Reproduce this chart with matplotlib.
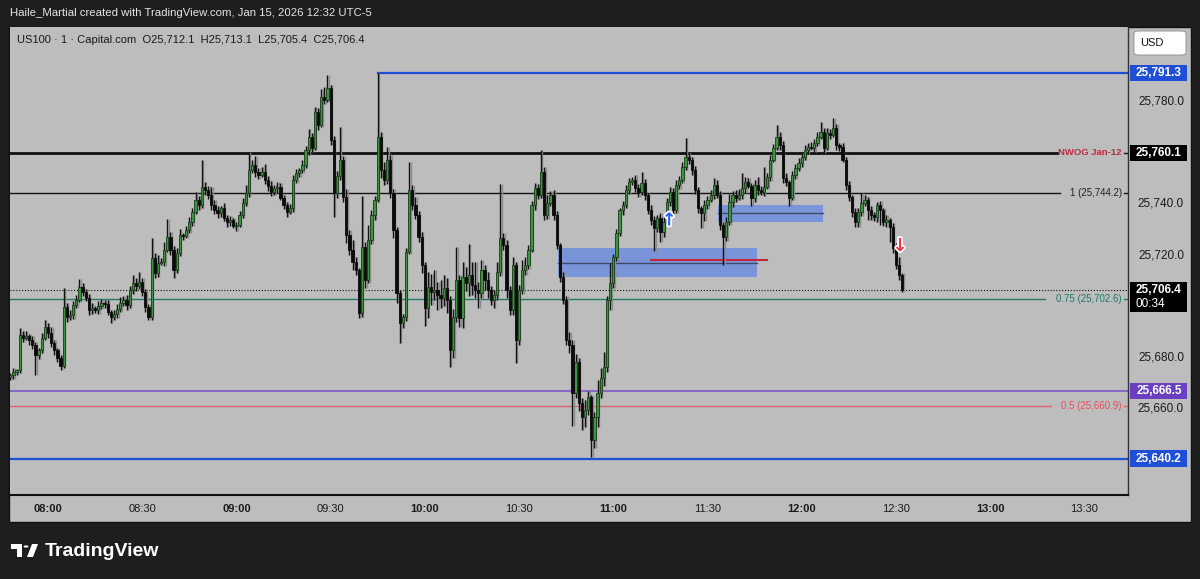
import numpy as np
import matplotlib.pyplot as plt
import matplotlib.transforms as mtrans
import matplotlib.patheffects as pe
from matplotlib.patches import Rectangle, FancyBboxPatch, Circle, Polygon

plt.rcParams['font.family'] = ['Liberation Sans', 'DejaVu Sans']

# ---- data: US100 1-minute candles, 07:48 -> 12:32 ----
first_open = 25672.0
closes = [
    25672.9, 25674.1, 25674.9, 25688.6, 25687.5, 25688.2, 25686.7, 25684.7, 25680.8, 25682.7, 25687.5, 25691.8, 25689.4, 25685.5, 25682.7,
    25679.6, 25676.5, 25699.6, 25695.7, 25696.5, 25700.4, 25702.4, 25707.5, 25705.5, 25703.1, 25698.4, 25699.2, 25698.4, 25700.0, 25701.2,
    25700.8, 25697.6, 25695.7, 25696.9, 25698.8, 25701.2, 25702.4, 25700.4, 25706.3, 25709.0, 25707.8, 25709.4, 25705.5, 25699.6, 25695.7,
    25718.8, 25712.9, 25716.9, 25717.3, 25722.0, 25727.1, 25722.0, 25714.1, 25720.8, 25727.8, 25727.5, 25729.8, 25732.9, 25736.9, 25741.6,
    25739.6, 25746.7, 25745.5, 25743.5, 25739.6, 25737.6, 25736.5, 25738.4, 25734.5, 25732.9, 25733.7, 25731.4, 25731.8, 25735.7, 25740.4,
    25744.3, 25753.3, 25755.3, 25752.5, 25751.4, 25752.5, 25749.4, 25747.1, 25744.7, 25746.3, 25746.7, 25742.4, 25739.6, 25736.9, 25738.4,
    25749.4, 25752.2, 25753.3, 25755.3, 25761.2, 25766.3, 25762.0, 25776.1, 25771.0, 25782.0, 25780.8, 25785.5, 25765.1, 25744.3, 25751.0,
    25757.3, 25742.7, 25727.8, 25722.0, 25717.3, 25714.1, 25697.3, 25723.1, 25710.2, 25725.9, 25735.7, 25741.6, 25766.3, 25753.3, 25749.4,
    25757.3, 25744.3, 25729.8, 25705.1, 25693.3, 25695.7, 25721.2, 25745.5, 25739.6, 25735.7, 25727.1, 25716.1, 25699.2, 25707.5, 25705.5,
    25706.3, 25704.3, 25703.1, 25707.1, 25702.4, 25682.7, 25695.7, 25710.2, 25695.3, 25711.4, 25709.0, 25712.2, 25708.2, 25706.3, 25705.1,
    25714.1, 25710.2, 25706.3, 25702.4, 25704.3, 25713.3, 25726.7, 25723.9, 25706.3, 25698.4, 25716.1, 25686.7, 25706.3, 25714.1, 25716.1,
    25722.0, 25739.6, 25746.3, 25743.5, 25752.5, 25735.7, 25740.4, 25743.5, 25735.7, 25723.9, 25711.4, 25702.4, 25686.7, 25684.7, 25665.9,
    25678.0, 25662.0, 25656.5, 25659.2, 25664.3, 25647.5, 25656.5, 25665.9, 25671.8, 25676.1, 25702.4, 25709.0, 25719.2, 25728.6, 25737.6,
    25739.6, 25745.5, 25748.6, 25749.4, 25746.3, 25744.7, 25748.2, 25743.5, 25737.6, 25733.7, 25730.6, 25734.5, 25729.0, 25732.9, 25740.8,
    25744.7, 25737.6, 25747.5, 25749.4, 25754.5, 25758.4, 25757.3, 25753.3, 25745.5, 25738.4, 25736.5, 25739.6, 25741.6, 25743.5, 25747.5,
    25743.5, 25731.8, 25727.1, 25732.9, 25740.8, 25743.5, 25742.4, 25743.5, 25746.3, 25748.6, 25747.1, 25742.4, 25747.5, 25745.5, 25744.7,
    25746.7, 25750.6, 25757.3, 25762.0, 25766.3, 25763.1, 25750.2, 25748.6, 25742.4, 25751.4, 25754.1, 25756.1, 25758.4, 25761.2, 25762.4,
    25762.0, 25763.9, 25766.3, 25768.2, 25762.0, 25767.8, 25767.1, 25769.8, 25763.1, 25762.4, 25757.3, 25747.5, 25742.7, 25736.9, 25732.9,
    25736.9, 25740.4, 25741.6, 25737.6, 25735.7, 25734.9, 25739.6, 25737.6, 25732.9, 25733.7, 25731.0, 25722.7, 25716.1, 25712.1, 25706.4,
]
# wick length above / below the body (points)
up_wick = [
    1.0, 1.5, 0.5, 2.7, 1.5, 2.0, 1.0, 1.5, 1.0, 1.0, 2.0, 2.7, 1.5, 2.5, 1.0,
    1.0, 1.0, 7.5, 1.5, 2.0, 1.5, 2.0, 3.0, 1.5, 1.0, 1.5, 2.0, 1.0, 2.0, 1.5,
    1.0, 1.5, 1.0, 1.5, 2.0, 2.5, 1.5, 2.0, 1.5, 3.0, 2.0, 4.0, 1.5, 1.0, 1.0,
    8.0, 2.0, 3.0, 1.5, 3.0, 7.0, 2.0, 1.5, 2.0, 2.5, 1.0, 1.5, 2.0, 1.5, 3.0,
    1.5, 10.5, 2.0, 1.5, 3.0, 2.0, 1.5, 1.0, 2.0, 1.0, 1.5, 1.0, 1.0, 1.5, 2.0,
    3.0, 7.0, 2.0, 3.5, 1.5, 2.0, 3.0, 1.5, 2.0, 1.0, 2.0, 1.5, 1.0, 1.0, 1.5,
    2.0, 1.5, 1.0, 2.0, 1.5, 3.0, 1.5, 2.0, 1.5, 3.0, 4.0, 5.0, 1.0, 1.5, 2.0,
    13.0, 1.5, 3.0, 2.0, 4.0, 2.0, 1.0, 20.0, 2.0, 6.0, 2.0, 1.5, 25.0, 2.0, 3.0,
    5.0, 2.0, 1.5, 1.0, 1.0, 1.0, 1.5, 11.0, 2.0, 3.0, 1.5, 2.0, 1.0, 6.0, 5.0,
    8.0, 3.0, 6.0, 5.0, 4.0, 1.5, 3.0, 13.0, 2.0, 6.0, 4.0, 12.0, 5.0, 9.0, 3.0,
    4.0, 2.0, 3.0, 1.5, 2.0, 4.0, 21.0, 2.0, 2.0, 1.5, 3.0, 1.0, 2.0, 4.0, 3.0,
    2.0, 1.5, 2.0, 1.5, 8.7, 2.0, 3.0, 1.5, 2.0, 1.5, 1.0, 2.0, 1.5, 3.0, 2.0,
    3.0, 1.5, 2.0, 4.0, 2.5, 1.0, 2.0, 5.0, 4.0, 6.0, 1.5, 8.0, 1.0, 1.5, 1.0,
    1.5, 2.0, 1.5, 1.0, 2.0, 1.5, 4.3, 1.5, 1.0, 2.0, 1.5, 1.0, 2.0, 2.5, 1.5,
    2.0, 1.5, 2.0, 1.5, 2.0, 7.5, 1.5, 1.0, 1.5, 1.0, 1.0, 2.0, 1.5, 2.0, 2.5,
    2.0, 1.5, 1.0, 2.0, 3.0, 1.5, 2.0, 2.5, 6.0, 2.0, 1.5, 1.0, 2.0, 3.0, 1.5,
    8.0, 1.5, 2.0, 1.5, 4.7, 2.0, 1.5, 2.0, 1.0, 1.5, 1.5, 2.0, 1.5, 2.0, 1.5,
    2.0, 1.5, 2.0, 4.0, 1.5, 2.0, 1.5, 4.0, 1.5, 1.0, 1.5, 1.0, 1.5, 1.0, 1.5,
    1.5, 4.0, 2.0, 1.0, 1.5, 1.0, 1.0, 1.5, 1.0, 2.0, 1.0, 1.5, 2.0, 3.0, 1.0,
]
dn_wick = [
    1.0, 1.5, 1.0, 1.0, 1.5, 1.0, 2.0, 1.5, 8.0, 1.5, 1.0, 1.0, 2.0, 1.5, 2.0,
    1.5, 1.5, 1.0, 2.0, 1.0, 1.5, 1.0, 1.0, 1.5, 1.0, 2.0, 1.5, 1.0, 1.5, 1.0,
    1.5, 1.0, 2.5, 1.0, 1.5, 1.0, 1.0, 2.0, 1.0, 1.5, 2.0, 1.0, 1.5, 2.0, 1.0,
    1.0, 2.0, 1.5, 1.0, 1.5, 1.0, 2.0, 3.0, 1.0, 1.0, 1.5, 1.0, 1.0, 1.5, 1.0,
    2.0, 1.0, 2.0, 1.5, 2.0, 1.5, 2.0, 1.5, 1.0, 2.0, 1.5, 1.0, 2.0, 1.0, 1.0,
    1.0, 1.5, 1.0, 2.0, 1.5, 1.0, 1.5, 2.0, 1.5, 1.0, 2.0, 1.0, 1.5, 2.0, 1.0,
    1.5, 1.0, 1.5, 1.0, 1.0, 2.0, 1.5, 1.0, 2.0, 1.0, 1.5, 1.0, 2.0, 9.4, 2.0,
    1.5, 2.0, 3.0, 2.0, 3.0, 2.0, 2.0, 1.5, 3.0, 1.0, 1.5, 2.0, 1.0, 3.0, 2.0,
    1.5, 2.0, 3.0, 4.0, 7.8, 2.0, 1.5, 1.0, 2.0, 1.5, 2.0, 3.0, 7.0, 4.0, 5.0,
    3.0, 6.0, 4.0, 3.0, 5.0, 6.7, 3.0, 2.0, 3.5, 4.0, 3.0, 5.0, 4.0, 3.0, 6.0,
    2.0, 4.0, 3.0, 2.0, 3.0, 2.0, 1.5, 2.0, 3.0, 2.0, 2.0, 9.0, 2.0, 1.5, 2.0,
    1.5, 1.0, 2.0, 1.5, 1.0, 2.0, 1.5, 1.0, 2.0, 1.5, 2.0, 1.5, 2.0, 3.0, 13.0,
    2.0, 3.0, 5.0, 4.0, 2.0, 6.7, 3.0, 4.0, 2.0, 3.0, 2.0, 4.0, 2.0, 1.5, 1.0,
    2.0, 1.0, 1.5, 1.0, 1.5, 2.0, 1.0, 2.0, 1.5, 2.0, 9.0, 1.5, 4.0, 2.0, 1.0,
    1.5, 2.0, 1.0, 1.5, 1.0, 1.0, 1.5, 2.0, 1.5, 2.0, 6.0, 3.0, 1.5, 1.0, 1.5,
    1.0, 2.0, 11.0, 1.5, 1.0, 2.0, 1.5, 1.0, 1.5, 2.0, 1.0, 3.0, 1.5, 2.0, 1.0,
    1.5, 1.0, 1.5, 1.0, 1.0, 2.0, 2.0, 1.5, 3.0, 1.0, 1.5, 1.0, 1.5, 1.0, 1.5,
    1.0, 1.5, 1.0, 1.0, 2.0, 1.0, 1.5, 1.0, 2.0, 1.5, 1.0, 2.0, 1.5, 2.0, 2.0,
    2.0, 1.5, 1.0, 4.0, 2.0, 1.5, 2.0, 6.0, 1.5, 2.0, 6.0, 2.0, 1.5, 2.0, 1.0,
]

time_ticks = [12, 42, 72, 102, 132, 162, 192, 222, 252, 282, 312, 342]   # bar index of each label
time_labels = ['08:00', '08:30', '09:00', '09:30', '10:00', '10:30', '11:00', '11:30', '12:00', '12:30', '13:00', '13:30']
price_ticks = [25660, 25680, 25720, 25740, 25780]

level_high = 25791.3
level_nwog = 25760.1
level_fib1 = 25744.2
level_fib075 = 25702.6
level_purple = 25666.5
level_fib05 = 25660.9
level_low = 25640.2
last_price = 25706.4

# zones: (start bar, end bar, bottom, top, mid)
zone1 = (174.4, 237.8, 25711.4, 25722.7, 25716.9)
zone2 = (225.4, 258.8, 25732.9, 25739.6, 25736.5)
red_line = (204.0, 241.0, 25718.0)

GREY = '#bdbdbd'
DARK = '#1e1e1e'
W, H = 1200, 579


def fx(x):
    return x / W


def fy(y):
    return 1 - y / H


fig = plt.figure(figsize=(12, 5.79), dpi=100)
fig.patch.set_facecolor(DARK)

# grey panel behind chart + scales
fig.patches.append(Rectangle((fx(9), fy(522)), fx(1191) - fx(9), fy(27) - fy(522),
                             transform=fig.transFigure, facecolor=GREY, edgecolor='#111111', lw=1, zorder=-5))

ax = fig.add_axes([fx(10), fy(495), fx(1128) - fx(10), fy(27) - fy(495)])
ax.set_zorder(1)
ax.set_facecolor(GREY)
ax.set_xlim(-0.1, 355.9)
ax.set_ylim(25625.9, 25809.4)
ax.set_xticks([])
ax.set_yticks([])
for s in ax.spines.values():
    s.set_visible(False)
ax.spines['bottom'].set_visible(True)
ax.spines['bottom'].set_color('#111111')
ax.spines['bottom'].set_linewidth(1.5)
ax.spines['right'].set_visible(True)
ax.spines['right'].set_color('#333333')
ax.spines['right'].set_linewidth(1)

c = np.array(closes)
o = np.array([first_open] + closes[:-1])
hi = np.maximum(o, c) + np.array(up_wick)
lo = np.minimum(o, c) - np.array(dn_wick)
idx = np.arange(len(c))
bull = c >= o

# zones
for z in (zone1, zone2):
    ax.add_patch(Rectangle((z[0], z[2]), z[1] - z[0], z[3] - z[2], facecolor='#2962ff', alpha=0.45, lw=0, zorder=1))
    ax.plot([z[0], z[1]], [z[4], z[4]], color='#3a4a66', lw=1, zorder=2)

# horizontal levels
xmax = 355.9
ax.plot([117.2, xmax], [level_high] * 2, color='#1e4fd6', lw=1.6, zorder=2)
ax.plot([-0.1, 333.4], [level_nwog] * 2, color='#111111', lw=2, zorder=2)
ax.plot([354.6, xmax], [level_nwog] * 2, color='#111111', lw=1, zorder=2)
ax.plot([-0.1, 334.3], [level_fib1] * 2, color='#111111', lw=1, zorder=2)
ax.plot([354.6, xmax], [level_fib1] * 2, color='#111111', lw=1, zorder=2)
ax.plot([-0.1, 329.5], [level_fib075] * 2, color='#1f7a68', lw=1, zorder=2)
ax.plot([354.6, xmax], [level_fib075] * 2, color='#1f7a68', lw=1, zorder=2)
ax.plot([-0.1, xmax], [level_purple] * 2, color='#7e57c2', lw=1.2, zorder=2)
ax.plot([-0.1, 331.4], [level_fib05] * 2, color='#e06470', lw=1, zorder=2)
ax.plot([354.6, xmax], [level_fib05] * 2, color='#e06470', lw=1, zorder=2)
ax.plot([-0.1, xmax], [level_low] * 2, color='#1e4fd6', lw=1.6, zorder=2)
ax.plot([-0.1, xmax], [last_price] * 2, color='#111111', lw=0.8, ls=(0, (1, 1.6)), zorder=2)
ax.plot([red_line[0], red_line[1]], [red_line[2]] * 2, color='#c62833', lw=1.5, zorder=2)

# line labels
ax.text(353.9, level_nwog, 'NWOG Jan-12', color='#c0283c', fontsize=6.8, fontweight='bold', ha='right', va='center', zorder=5)
ax.text(353.9, level_fib1, '1 (25,744.2)', color='#222222', fontsize=7, ha='right', va='center', zorder=5)
ax.text(353.9, level_fib075, '0.75 (25,702.6)', color='#1f7a68', fontsize=7, ha='right', va='center', zorder=5)
ax.text(353.9, level_fib05, '0.5 (25,660.9)', color='#f04a5a', fontsize=7, ha='right', va='center', zorder=5)

# candles (with the faint grey shadow TradingView draws beside each bar)
ax.vlines(idx + 0.45, lo, hi, color='#8c8c8c', lw=1.0, zorder=2.5)
ax.vlines(idx, lo, hi, color='#111111', lw=1.0, zorder=3)
ax.bar(idx[bull], np.maximum(c - o, 0.3)[bull], bottom=o[bull], width=0.72,
       color='#3d9440', edgecolor='#173d17', lw=0.6, zorder=4)
ax.bar(idx[~bull], (o - c)[~bull], bottom=c[~bull], width=0.72,
       color='#0b0b0b', edgecolor='#0b0b0b', lw=0.6, zorder=4)

# signal arrows
ax.text(209.8, 25733.5, '\u2191', color='#2962ff', fontsize=13, fontweight='bold', ha='center', va='center',
        family='DejaVu Sans', zorder=6, path_effects=[pe.withStroke(linewidth=2.5, foreground='white')])
ax.text(283.3, 25723.5, '\u2193', color='#f23645', fontsize=13, fontweight='bold', ha='center', va='center',
        family='DejaVu Sans', zorder=6, path_effects=[pe.withStroke(linewidth=2.5, foreground='white')])

# time scale
tx = mtrans.blended_transform_factory(ax.transData, fig.transFigure)
for t, lab in zip(time_ticks, time_labels):
    ax.text(t, fy(509), lab, transform=tx, ha='center', va='center', fontsize=8, color='#1a1a1a',
            fontweight='bold' if lab.endswith(':00') else 'normal', clip_on=False)

# price scale
ty = mtrans.blended_transform_factory(fig.transFigure, ax.transData)
for p in price_ticks:
    ax.text(fx(1161), p, f'{p:,.1f}', transform=ty, ha='center', va='center', fontsize=8.5, color='#1a1a1a', clip_on=False)


def badge(price, text, color, h=6.3):
    ax.add_patch(Rectangle((fx(1130), price - h / 2), fx(1187) - fx(1130), h, transform=ty,
                           facecolor=color, edgecolor='none', clip_on=False, zorder=6))
    ax.text(fx(1159), price, text, transform=ty, ha='center', va='center', fontsize=8.5,
            color='white', fontweight='bold', clip_on=False, zorder=7)


badge(level_high, '25,791.3', '#1e4fd6')
badge(level_nwog, '25,760.1', '#000000')
badge(level_purple, '25,666.5', '#6a3fc0')
badge(level_low, '25,640.2', '#1e4fd6')
ax.add_patch(Rectangle((fx(1130), last_price - 8.8), fx(1187) - fx(1130), 12.0, transform=ty,
                       facecolor='#000000', edgecolor='none', clip_on=False, zorder=6))
ax.text(fx(1136), last_price, '25,706.4', transform=ty, ha='left', va='center', fontsize=8.5,
        color='white', fontweight='bold', clip_on=False, zorder=7)
ax.text(fx(1136), last_price - 5.6, '00:34', transform=ty, ha='left', va='center', fontsize=8.5,
        color='white', clip_on=False, zorder=7)

# USD button
fig.patches.append(FancyBboxPatch((fx(1134), fy(55)), fx(1186) - fx(1134), fy(31) - fy(55),
                                  boxstyle='round,pad=0,rounding_size=0.004', transform=fig.transFigure,
                                  facecolor='white', edgecolor='#888888', lw=0.6, zorder=5))
fig.text(fx(1152), fy(43), 'USD', ha='center', va='center', fontsize=8, color='#111111', zorder=6)

# header and legend
fig.text(fx(10), fy(13), 'Haile_Martial created with TradingView.com, Jan 15, 2026 12:32 UTC-5',
         ha='left', va='center', fontsize=8.2, color='#e6e6e6')
fig.text(fx(17), fy(40), 'US100 \u00b7 1 \u00b7 Capital.com  O25,712.1  H25,713.1  L25,705.4  C25,706.4',
         ha='left', va='center', fontsize=8.0, color='#1a1a1a', zorder=6)

# TradingView footer logo
fig.patches.append(Polygon([(fx(11), fy(544)), (fx(22), fy(544)), (fx(22), fy(557)), (fx(17), fy(557)),
                            (fx(17), fy(548.5)), (fx(11), fy(548.5))], closed=True,
                           transform=fig.transFigure, facecolor='white', edgecolor='none'))
fig.patches.append(Circle((fx(26), fy(546.5)), 2.4 / W, transform=fig.transFigure, facecolor='white'))
fig.patches.append(Polygon([(fx(32), fy(544)), (fx(38), fy(544)), (fx(33), fy(557)), (fx(27), fy(557))],
                           closed=True, transform=fig.transFigure, facecolor='white', edgecolor='none'))
fig.text(fx(45), fy(551), 'TradingView', ha='left', va='center', fontsize=14, fontweight='bold', color='white')

fig.savefig('out.png', dpi=100, facecolor=fig.get_facecolor())
